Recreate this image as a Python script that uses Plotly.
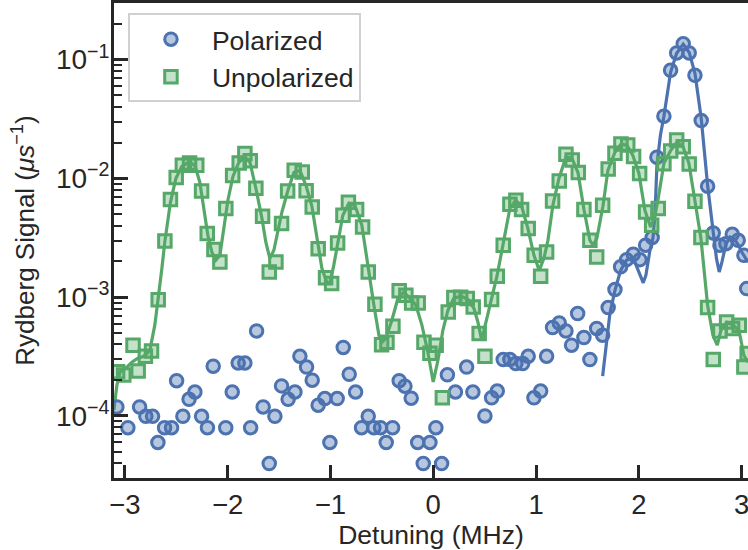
import plotly.graph_objects as go

# ---------------- data ----------------
pol_x = [-3.077, -2.970, -2.856, -2.795, -2.730, -2.678, -2.613, -2.545, -2.496, -2.435,
         -2.375, -2.318, -2.253, -2.196, -2.140, -2.018, -1.955, -1.897, -1.832, -1.776,
         -1.718, -1.654, -1.595, -1.540, -1.475, -1.411, -1.345, -1.297, -1.232, -1.177,
         -1.119, -1.054, -1.005, -0.934, -0.875, -0.817, -0.755, -0.697, -0.632, -0.577,
         -0.512, -0.457, -0.395, -0.331, -0.275, -0.214, -0.151, -0.097, -0.032, 0.026,
         0.082, 0.138, 0.216, 0.325, 0.386, 0.503, 0.568, 0.623, 0.681, 0.746,
         0.804, 0.870, 0.924, 0.980, 1.045, 1.103, 1.161, 1.226, 1.291, 1.346,
         1.405, 1.466, 1.524, 1.590, 1.648, 1.702, 1.768, 1.823, 1.881, 1.946,
         2.011, 2.066, 2.130, 2.176, 2.244, 2.309, 2.368, 2.432, 2.490, 2.546,
         2.607, 2.669, 2.724, 2.789, 2.847, 2.909, 2.967, 3.022, 3.049]
pol_y = [1.19e-4, 7.96e-5, 1.19e-4, 9.93e-5, 9.93e-5, 5.97e-5, 7.96e-5, 7.96e-5, 1.98e-4, 9.93e-5,
         1.38e-4, 1.59e-4, 9.93e-5, 7.96e-5, 2.62e-4, 7.96e-5, 1.59e-4, 2.79e-4, 2.79e-4, 7.96e-5,
         5.19e-4, 1.19e-4, 3.97e-5, 9.93e-5, 1.79e-4, 1.38e-4, 1.59e-4, 3.18e-4, 2.58e-4, 2.0e-4,
         1.23e-4, 1.40e-4, 5.97e-5, 1.40e-4, 3.77e-4, 2.24e-4, 1.59e-4, 7.96e-5, 9.93e-5, 7.96e-5,
         7.96e-5, 5.97e-5, 7.96e-5, 1.98e-4, 1.78e-4, 1.41e-4, 5.97e-5, 3.97e-5, 5.97e-5, 7.96e-5,
         3.97e-5, 2.22e-4, 1.59e-4, 2.58e-4, 1.59e-4, 1.0e-4, 1.42e-4, 1.62e-4, 2.98e-4, 2.98e-4,
         2.76e-4, 2.76e-4, 3.18e-4, 1.42e-4, 1.62e-4, 3.18e-4, 5.55e-4, 6.07e-4, 5.19e-4, 3.94e-4,
         7.28e-4, 4.57e-4, 2.98e-4, 5.45e-4, 4.78e-4, 8.17e-4, 1.16e-3, 1.80e-3, 2.07e-3, 2.30e-3,
         2.07e-3, 2.74e-3, 3.18e-3, 1.51e-2, 3.34e-2, 8.13e-2, 0.114, 0.136, 0.114, 7.38e-2,
         3.07e-2, 8.59e-3, 3.47e-3, 2.74e-3, 2.82e-3, 3.38e-3, 3.01e-3, 2.25e-3, 1.18e-3]

unpol_x = [-3.070, -3.010, -2.920, -2.870, -2.800, -2.740, -2.675, -2.610, -2.556, -2.500,
           -2.440, -2.370, -2.300, -2.253, -2.198, -2.133, -2.075, -2.017, -1.951, -1.887,
           -1.832, -1.780, -1.725, -1.660, -1.595, -1.530, -1.475, -1.416, -1.352, -1.274,
           -1.236, -1.177, -1.119, -1.047, -0.988, -0.930, -0.878, -0.825, -0.745, -0.687,
           -0.632, -0.567, -0.502, -0.450, -0.392, -0.331, -0.266, -0.210, -0.146, -0.090,
           -0.032, 0.029, 0.089, 0.146, 0.201, 0.267, 0.331, 0.389, 0.447, 0.503,
           0.568, 0.623, 0.681, 0.746, 0.804, 0.860, 0.924, 0.982, 1.045, 1.103,
           1.161, 1.226, 1.291, 1.352, 1.411, 1.466, 1.524, 1.590, 1.648, 1.702,
           1.768, 1.826, 1.892, 1.949, 2.008, 2.066, 2.125, 2.189, 2.244, 2.310,
           2.368, 2.432, 2.490, 2.546, 2.604, 2.669, 2.724, 2.789, 2.854, 2.912,
           2.977, 3.022, 3.054]
unpol_y = [2.35e-4, 2.21e-4, 3.94e-4, 2.39e-4, 3.18e-4, 3.52e-4, 9.5e-4, 2.97e-3, 6.64e-3, 1.02e-2,
           1.29e-2, 1.35e-2, 1.29e-2, 7.83e-3, 3.43e-3, 2.52e-3, 1.98e-3, 5.57e-3, 1.06e-2, 1.35e-2,
           1.62e-2, 1.41e-2, 8.26e-3, 4.80e-3, 1.63e-3, 1.98e-3, 4.17e-3, 7.83e-3, 1.17e-2, 1.13e-2,
           7.89e-3, 5.74e-3, 2.56e-3, 1.46e-3, 1.30e-3, 2.86e-3, 4.89e-3, 6.29e-3, 5.46e-3, 3.90e-3,
           1.63e-3, 8.71e-4, 3.97e-4, 4.17e-4, 5.69e-4, 1.13e-3, 1.04e-3, 8.93e-4, 8.93e-4, 4.17e-4,
           3.37e-4, 3.94e-4, 1.42e-4, 7.5e-4, 9.93e-4, 1.0e-3, 9.73e-4, 8.26e-4, 4.94e-4, 3.18e-4,
           9.55e-4, 1.50e-3, 2.74e-3, 6.05e-3, 6.55e-3, 5.46e-3, 3.78e-3, 2.25e-3, 1.50e-3, 2.40e-3,
           6.46e-3, 9.51e-3, 1.60e-2, 1.43e-2, 1.12e-2, 5.46e-3, 3.01e-3, 2.18e-3, 5.94e-3, 1.20e-2,
           1.63e-2, 1.95e-2, 1.91e-2, 1.53e-2, 1.10e-2, 5.21e-3, 4.03e-3, 5.57e-3, 1.33e-2, 1.70e-2,
           2.11e-2, 1.85e-2, 1.32e-2, 6.41e-3, 3.18e-3, 8.17e-4, 2.98e-4, 5.19e-4, 6.18e-4, 5.45e-4,
           5.80e-4, 2.58e-4, 3.35e-4]

pol_fit_x = [1.648, 1.680, 1.719, 1.768, 1.823, 1.881, 1.923, 1.962, 2.011, 2.043,
             2.069, 2.108, 2.137, 2.157, 2.176, 2.210, 2.244, 2.309, 2.368, 2.432,
             2.490, 2.546, 2.607, 2.669, 2.724, 2.755, 2.782, 2.808, 2.847, 2.886,
             2.925, 2.964, 3.003, 3.061]
pol_fit_y = [2.16e-4, 3.94e-4, 7.31e-4, 1.14e-3, 1.68e-3, 2.05e-3, 2.12e-3, 1.97e-3, 1.53e-3, 1.32e-3,
             1.53e-3, 2.48e-3, 3.13e-3, 4.89e-3, 1.29e-2, 2.31e-2, 3.34e-2, 7.82e-2, 0.113, 0.135,
             0.115, 7.67e-2, 3.21e-2, 8.75e-3, 3.52e-3, 2.12e-3, 1.63e-3, 1.97e-3, 2.79e-3, 3.21e-3,
             3.13e-3, 2.79e-3, 2.39e-3, 1.97e-3]

unpol_fit_x = [-3.106, -3.077, -3.048, -2.990, -2.931, -2.873, -2.815, -2.756, -2.708, -2.675,
               -2.639, -2.610, -2.556, -2.503, -2.445, -2.376, -2.318, -2.270, -2.231, -2.192,
               -2.153, -2.114, -2.075, -2.036, -1.997, -1.948, -1.890, -1.832, -1.783, -1.725,
               -1.666, -1.628, -1.589, -1.550, -1.511, -1.472, -1.413, -1.355, -1.297, -1.238,
               -1.180, -1.122, -1.083, -1.034, -1.005, -0.967, -0.928, -0.879, -0.820, -0.762,
               -0.694, -0.635, -0.577, -0.528, -0.499, -0.460, -0.402, -0.343, -0.285, -0.227,
               -0.168, -0.110, -0.052, 0.000, 0.046, 0.094, 0.143, 0.201, 0.269, 0.337,
               0.396, 0.435, 0.471, 0.513, 0.568, 0.620, 0.678, 0.746, 0.804, 0.863,
               0.921, 0.980, 1.031, 1.077, 1.116, 1.164, 1.223, 1.291, 1.349, 1.408,
               1.466, 1.524, 1.556, 1.592, 1.651, 1.699, 1.768, 1.826, 1.884, 1.942,
               2.001, 2.059, 2.114, 2.157, 2.186, 2.244, 2.312, 2.370, 2.428, 2.487,
               2.545, 2.604, 2.669, 2.721, 2.763, 2.799, 2.857, 2.915, 2.974, 3.022,
               3.061]
unpol_fit_y = [1.12e-4, 1.81e-4, 2.33e-4, 2.52e-4, 2.83e-4, 3.06e-4, 3.18e-4, 3.58e-4, 5.81e-4, 9.6e-4,
               1.75e-3, 2.96e-3, 6.29e-3, 1.0e-2, 1.26e-2, 1.37e-2, 1.29e-2, 9.27e-3, 5.6e-3, 3.32e-3,
               2.39e-3, 2.05e-3, 2.25e-3, 3.66e-3, 6.55e-3, 1.04e-2, 1.37e-2, 1.51e-2, 1.37e-2, 8.26e-3,
               4.61e-3, 2.90e-3, 2.12e-3, 2.48e-3, 3.52e-3, 5.19e-3, 7.94e-3, 1.12e-2, 1.17e-2, 8.75e-3,
               5.82e-3, 2.74e-3, 1.75e-3, 1.33e-3, 1.31e-3, 1.86e-3, 2.90e-3, 4.89e-3, 6.17e-3, 5.94e-3,
               4.03e-3, 1.75e-3, 8.55e-4, 4.78e-4, 4.17e-4, 4.51e-4, 6.4e-4, 9.8e-4, 1.10e-3, 9.8e-4,
               8.55e-4, 5.81e-4, 3.44e-4, 1.93e-4, 2.94e-4, 5.26e-4, 7.76e-4, 9.8e-4, 1.02e-3, 9.6e-4,
               8.06e-4, 6.15e-4, 4.34e-4, 6.15e-4, 9.8e-4, 1.50e-3, 2.74e-3, 5.6e-3, 6.55e-3, 5.72e-3,
               3.80e-3, 2.25e-3, 1.68e-3, 2.12e-3, 3.01e-3, 5.94e-3, 1.0e-2, 1.51e-2, 1.48e-2, 1.12e-2,
               5.5e-3, 3.01e-3, 2.74e-3, 3.13e-3, 5.82e-3, 1.17e-2, 1.66e-2, 1.94e-2, 1.90e-2, 1.56e-2,
               1.10e-2, 5.38e-3, 3.90e-3, 4.89e-3, 6.55e-3, 1.34e-2, 1.73e-2, 2.01e-2, 1.86e-2, 1.34e-2,
               6.55e-3, 3.13e-3, 8.55e-4, 4.78e-4, 3.94e-4, 5.26e-4, 6.15e-4, 5.81e-4, 5.26e-4, 3.24e-4,
               2.83e-4]

x_ticks = [-3, -2, -1, 0, 1, 2, 3]
x_ticktext = ["\u22123", "\u22122", "\u22121", "0", "1", "2", "3"]
y_ticks = [1e-4, 1e-3, 1e-2, 1e-1]
y_ticktext = ["10<sup>\u22124</sup>", "10<sup>\u22123</sup>", "10<sup>\u22122</sup>", "10<sup>\u22121</sup>"]
y_minor = [m * 10.0 ** e for e in range(-5, 0) for m in range(2, 10)]

# ---------------- styling ----------------
BLUE = "#4c72b0"
GREEN = "#55a868"
BLUE_FILL = "rgba(76,114,176,0.40)"
GREEN_FILL = "rgba(85,168,104,0.35)"
INK = "#262626"
FONT = "Liberation Sans, Arial, sans-serif"

fig = go.Figure()
fig.add_trace(go.Scatter(x=pol_fit_x, y=pol_fit_y, mode="lines",
                         line=dict(color=BLUE, width=3.2), showlegend=False, hoverinfo="skip"))
fig.add_trace(go.Scatter(x=unpol_fit_x, y=unpol_fit_y, mode="lines",
                         line=dict(color=GREEN, width=3.2), showlegend=False, hoverinfo="skip"))
fig.add_trace(go.Scatter(x=pol_x, y=pol_y, mode="markers", name="Polarized",
                         marker=dict(symbol="circle", size=12.5, color=BLUE_FILL,
                                     line=dict(color=BLUE, width=3))))
fig.add_trace(go.Scatter(x=unpol_x, y=unpol_y, mode="markers", name="Unpolarized",
                         marker=dict(symbol="square", size=12.5, color=GREEN_FILL,
                                     line=dict(color=GREEN, width=3))))

fig.update_layout(
    width=748, height=550,
    margin=dict(l=114, r=0, t=3, b=72),
    paper_bgcolor="white", plot_bgcolor="white",
    font=dict(family=FONT, color=INK, size=26),
    showlegend=True,
    legend=dict(x=0.022, y=0.978, xanchor="left", yanchor="top",
                bgcolor="rgba(255,255,255,0.8)", bordercolor="#d0d0d0", borderwidth=2,
                font=dict(size=26.5, family=FONT, color=INK), itemwidth=72,
                traceorder="normal"),
)
fig.update_xaxes(
    range=[-3.105, 3.062], showgrid=False, zeroline=False,
    showline=True, linecolor=INK, linewidth=3, mirror=True,
    ticks="inside", ticklen=13, tickwidth=2.6, tickcolor=INK,
    tickvals=x_ticks, ticktext=x_ticktext, tickfont=dict(size=27.5),
    ticklabeloverflow="allow",
    title=dict(text="Detuning (MHz)", font=dict(size=26.5), standoff=3),
)
fig.update_yaxes(
    type="log", range=[-4.5229, -0.5229], showgrid=False, zeroline=False,
    showline=True, linecolor=INK, linewidth=3, mirror=False,
    ticks="inside", ticklen=14, tickwidth=2.6, tickcolor=INK,
    tickvals=y_ticks, ticktext=y_ticktext, tickfont=dict(size=28),
    ticklabelstandoff=-4,
    minor=dict(ticks="inside", ticklen=8, tickwidth=2, tickcolor=INK, tickvals=y_minor),
    title=dict(text="Rydberg Signal (<i>\u03bcs</i><sup>\u22121</sup>)", font=dict(size=26), standoff=14),
)

fig.write_html("out.html")
